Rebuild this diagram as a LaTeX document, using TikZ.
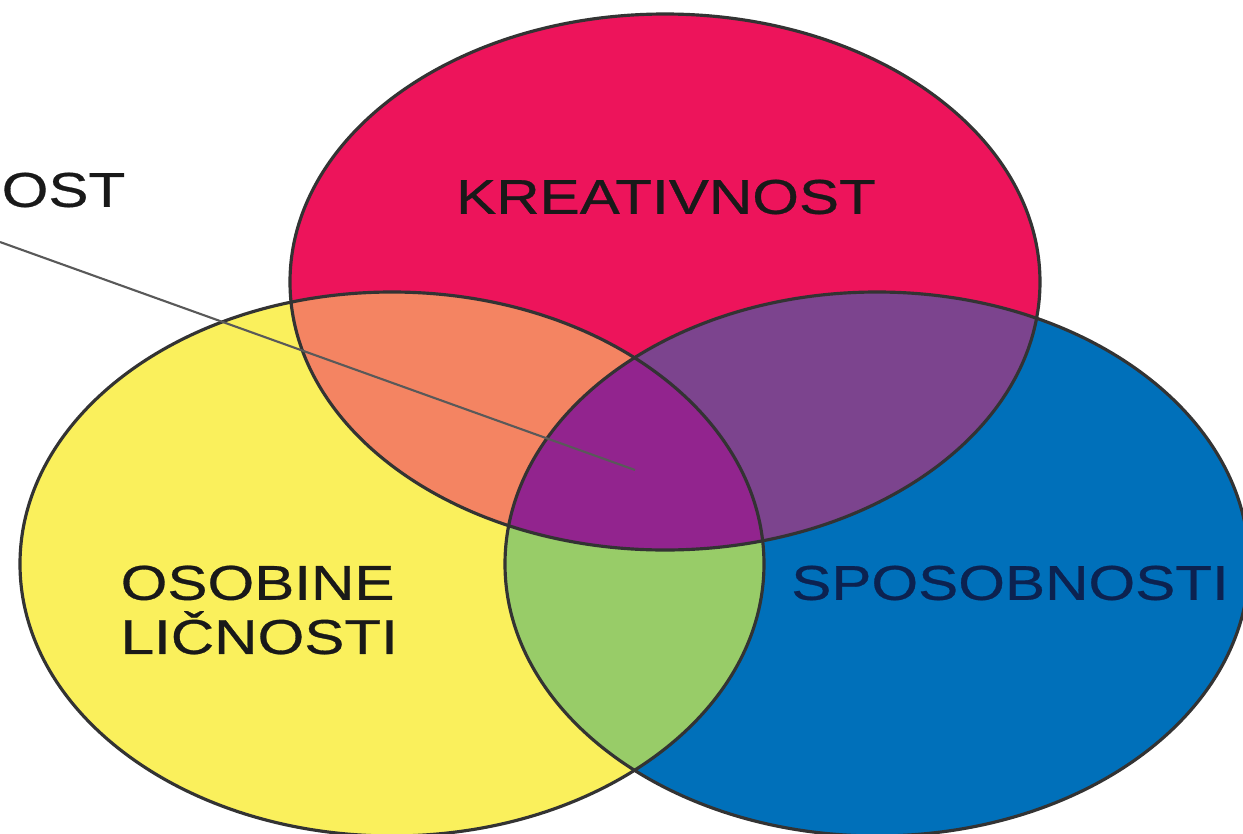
\documentclass[tikz,border=0pt]{standalone}
\usepackage{fontspec}
\newfontfamily\vennfont[FakeStretch=1.23, FakeBold=0.6]{Liberation Sans}
\usetikzlibrary{calc}
\definecolor{kreaRed}{RGB}{237,20,91}
\definecolor{osobYellow}{RGB}{250,240,92}
\definecolor{sposBlue}{RGB}{0,112,186}
\definecolor{mixOrange}{RGB}{244,132,98}
\definecolor{mixPurple}{RGB}{124,68,142}
\definecolor{mixGreen}{RGB}{152,204,104}
\definecolor{mixCentre}{RGB}{146,36,142}
\definecolor{textNavy}{RGB}{12,34,80}
\tikzstyle{outline} = [%
					line width = 0.9pt,
					color = black!80]
\tikzstyle{pointer} = [%
					line width = 0.6pt,
					color = black!65]

\begin{document}
\begin{tikzpicture}[venntext/.style={font=\vennfont\fontsize{13.9}{15.4}\selectfont, inner sep=0pt, text=black!90}]
	
	\useasboundingbox (0,0) rectangle (12.43,8.33);
	\clip (0,0) rectangle (12.43,8.33);
	
	% Coordinates
	\coordinate (R) at (6.65,5.51);
	\coordinate (Y) at (3.92,2.69);
	\coordinate (B) at (8.77,2.69);
	\coordinate (lead) at (0,5.91);
	\coordinate (tip)  at (6.35,3.63);
	
	% Sets
	\fill[kreaRed]    (R) ellipse (3.75 and 2.68);
	\fill[osobYellow] (Y) ellipse (3.72 and 2.72);
	\fill[sposBlue]   (B) ellipse (3.72 and 2.72);
	
	% Overlaps
	\begin{scope}
		\clip (R) ellipse (3.75 and 2.68);
		\fill[mixOrange] (Y) ellipse (3.72 and 2.72);
		\fill[mixPurple] (B) ellipse (3.72 and 2.72);
	\end{scope}
	\begin{scope}
		\clip (Y) ellipse (3.72 and 2.72);
		\fill[mixGreen] (B) ellipse (3.72 and 2.72);
		\clip (R) ellipse (3.75 and 2.68);
		\fill[mixCentre] (B) ellipse (3.72 and 2.72);
	\end{scope}
	
	% Outlines
	\draw[outline] (R) ellipse (3.75 and 2.68);
	\draw[outline] (Y) ellipse (3.72 and 2.72);
	\draw[outline] (B) ellipse (3.72 and 2.72);
	
	% Nodes
	\node[venntext] (krea) at (6.66,6.36) {KREATIVNOST};
	\node[venntext, align=left, anchor=west] (osob) at (1.20,2.23) {OSOBINE\\LIČNOSTI};
	\node[venntext, text=textNavy] (spos) at (10.10,2.50) {SPOSOBNOSTI};
	\node[venntext, anchor=west] (ost) at (0.01,6.43) {OST};
	
	% Pointer
	\draw[pointer] (lead) -- (tip);
\end{tikzpicture}
\end{document}
